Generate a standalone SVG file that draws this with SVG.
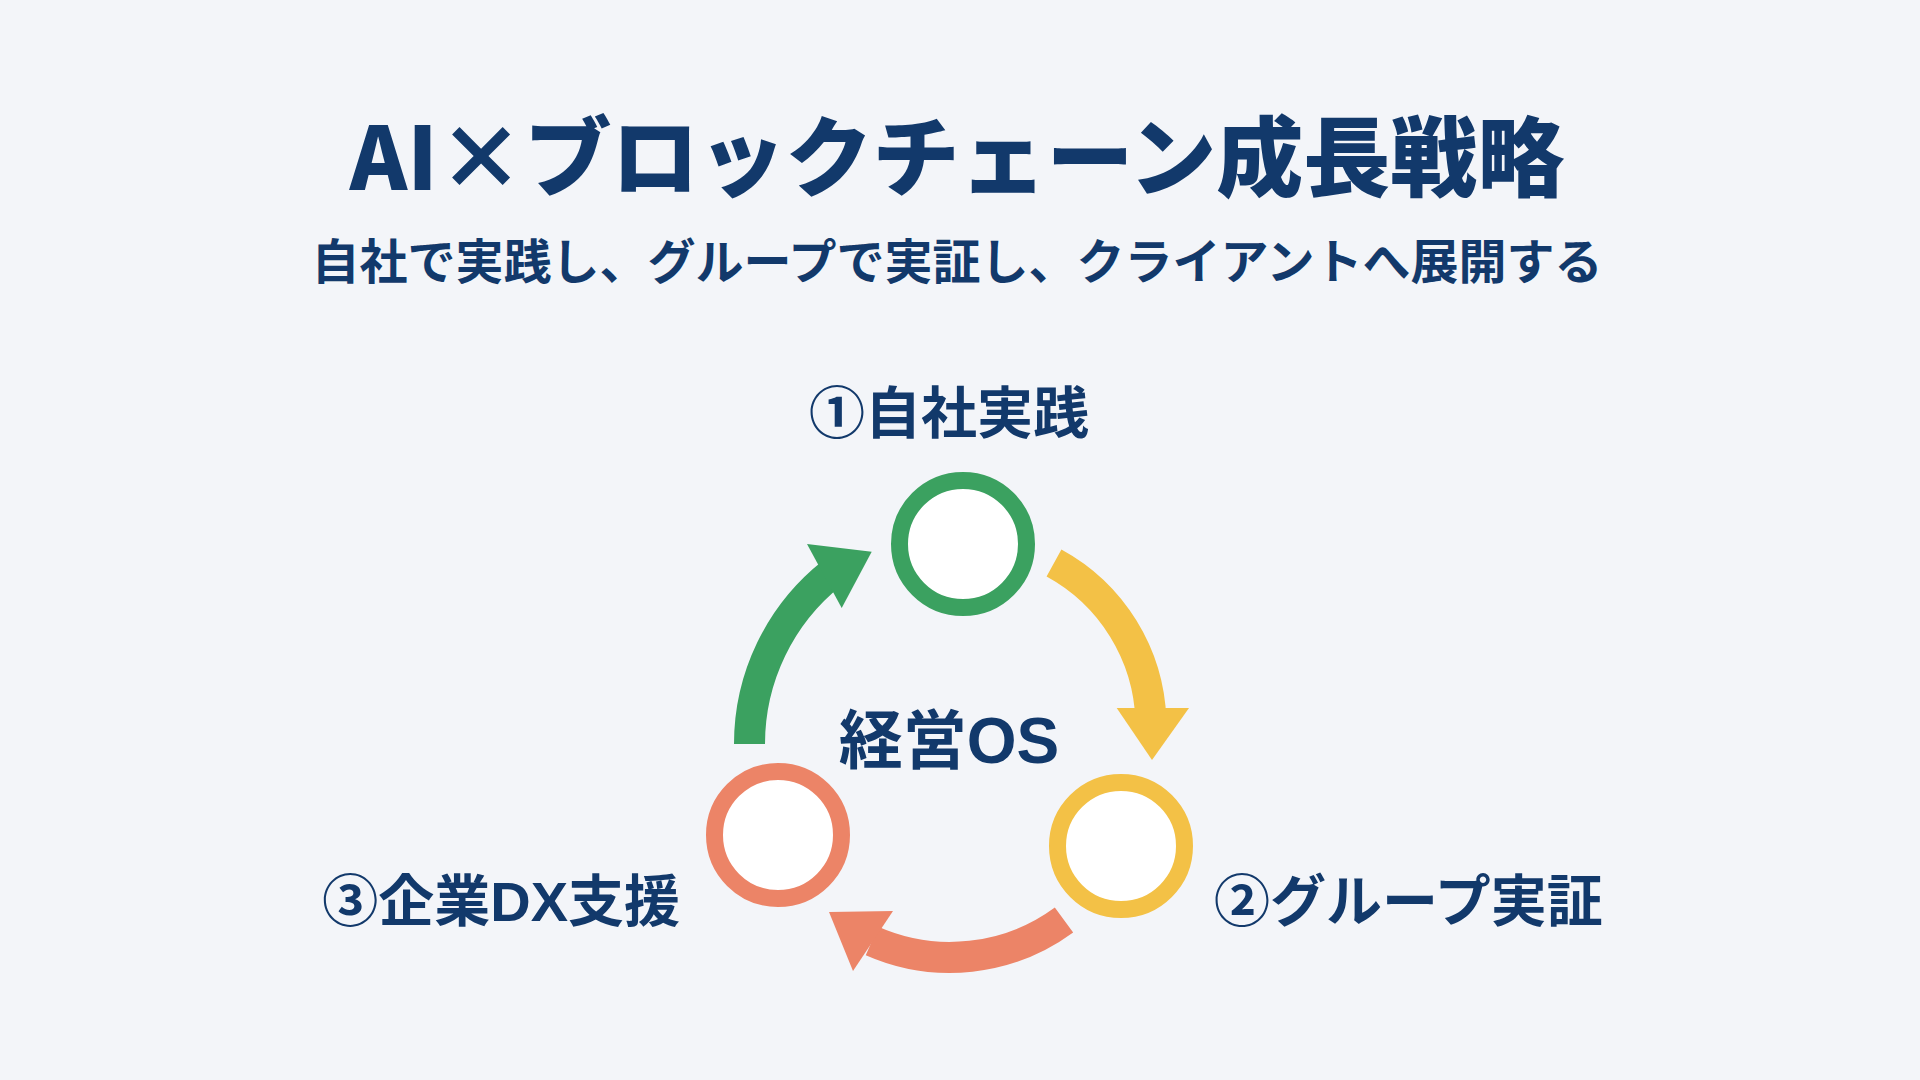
<svg xmlns="http://www.w3.org/2000/svg" width="1920" height="1080" viewBox="0 0 1920 1080">
  <style>
    .t { font-family: "Noto Sans CJK JP", "Noto Sans", "Liberation Sans", sans-serif; fill: #12396b; font-weight: 700; }
    .lat { font-family: "Liberation Sans", "Noto Sans", sans-serif; font-weight: 700; }
    .title { font-size: 87px; font-weight: 900; }
    .sub { font-size: 48px; }
    .lbl { font-size: 56px; }
    .core { font-size: 64px; }
    .ring { fill: #ffffff; stroke-width: 17; }
    .arc { fill: none; stroke-width: 31; stroke-linecap: butt; }
  </style>
  <rect x="0" y="0" width="1920" height="1080" fill="#f3f5f9"/>

  <g id="title">
    <text class="t title" x="957" y="190" text-anchor="middle">AI×ブロックチェーン成長戦略</text>
    <text class="t sub" x="957" y="279" text-anchor="middle">自社で実践し、グループで実証し、クライアントへ展開する</text>
  </g>

  <g id="connectors">
    <path class="arc" stroke="#3ba160" d="M 749.5 744 A 218 218 0 0 1 831.8 573.4"/>
    <polygon fill="#3ba160" points="807,544 871.7,551.7 841.7,608"/>
    <path class="arc" stroke="#f3c146" d="M 1054 563 A 186 186 0 0 1 1150.9 720"/>
    <polygon fill="#f3c146" points="1116.7,708 1189,708 1152,760"/>
    <path class="arc" stroke="#ec8467" d="M 1064 920 A 193 193 0 0 1 872 941"/>
    <polygon fill="#ec8467" points="893,911 829,912 853,971"/>
  </g>

  <g id="node-1">
    <circle class="ring" stroke="#3ba160" cx="963" cy="544" r="63.5"/>
    <text class="t lbl" x="949" y="433" text-anchor="middle">①自社実践</text>
  </g>
  <g id="node-2">
    <circle class="ring" stroke="#f3c146" cx="1121" cy="846" r="63.5"/>
    <text class="t lbl" x="1214" y="921" text-anchor="start">②グループ実証</text>
  </g>
  <g id="node-3">
    <circle class="ring" stroke="#ec8467" cx="778" cy="835" r="63.5"/>
    <text class="t lbl" x="680" y="921" text-anchor="end">③企業<tspan class="lat">DX</tspan>支援</text>
  </g>
  <g id="center">
    <text class="t core" x="949" y="763" text-anchor="middle">経営<tspan class="lat">OS</tspan></text>
  </g>
</svg>
